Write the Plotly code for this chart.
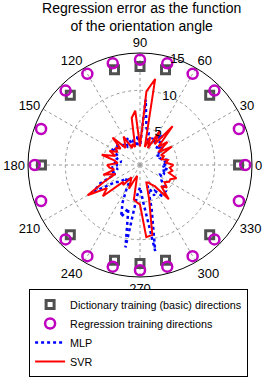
import plotly.graph_objects as go

# angles (degrees) for the error curves, 5-degree steps
angles = list(range(0, 360, 5))

svr_err = [4.5, 3.5, 3.8, 3.0, 3.4, 3.1, 4.9, 3.0, 4.8, 3.5,
           6.8, 3.4, 5.3, 2.5, 4.0, 2.5, 11.7, 9.9, 2.5, 7.3,
           6.4, 2.5, 3.0, 2.5, 4.4, 3.5, 3.0, 5.2, 3.4, 4.0,
           3.5, 4.5, 3.5, 5.3, 3.5, 3.0, 4.4, 4.1, 3.5, 5.1,
           3.5, 5.3, 8.1, 5.4, 6.5, 3.2, 3.5, 2.0, 2.5, 3.5,
           2.0, 1.5, 4.7, 5.0, 5.3, 9.7, 9.5, 4.7, 2.5, 2.6,
           3.0, 3.5, 6.0, 4.0, 4.7, 4.0, 4.5, 4.5, 5.2, 4.0,
           4.4, 4.0]

mlp_err = [3.5, 3.0, 3.9, 3.0, 2.8, 3.0, 2.5, 3.5, 4.0, 3.0,
           4.5, 5.0, 3.5, 4.0, 3.0, 4.5, 5.0, 8.8, 2.5, 4.0,
           2.5, 3.5, 3.0, 4.0, 3.4, 3.0, 3.5, 3.5, 4.3, 3.5,
           4.4, 3.5, 3.0, 3.2, 2.5, 3.5, 3.0, 3.8, 3.0, 4.0,
           3.5, 6.0, 7.1, 4.0, 3.5, 2.5, 3.0, 2.0, 3.5, 5.5,
           7.4, 6.0, 11.2, 4.0, 3.0, 5.0, 11.7, 6.0, 3.0, 4.5,
           4.0, 5.0, 5.0, 4.9, 4.0, 3.5, 3.4, 3.0, 3.5, 3.0,
           3.8, 3.0]

dict_dirs = [0, 45, 75, 90, 105, 135, 180, 225, 255, 270, 285, 315]
dict_r = [13.2] * len(dict_dirs)

reg_dirs = [0, 20, 45, 60, 75, 90, 105, 120, 135, 160,
            180, 200, 225, 240, 255, 270, 285, 300, 315, 340]
reg_r = [14.1] * len(reg_dirs)

angle_ticks = list(range(0, 360, 30))
radial_ticks = [5, 10, 15]

font_family = "Liberation Sans, Arial, sans-serif"

fig = go.Figure()

fig.add_trace(go.Scatterpolar(
    r=dict_r, theta=dict_dirs, mode="markers",
    name="Dictionary training (basic) directions",
    marker=dict(symbol="square", size=8, color="white",
                line=dict(color="#505050", width=3)),
))
fig.add_trace(go.Scatterpolar(
    r=reg_r, theta=reg_dirs, mode="markers",
    name="Regression training directions",
    marker=dict(symbol="circle", size=10, color="rgba(0,0,0,0)",
                line=dict(color="#BF00BF", width=2.5)),
))
fig.add_trace(go.Scatterpolar(
    r=mlp_err + [mlp_err[0]], theta=angles + [angles[0]], mode="lines",
    name="MLP",
    line=dict(color="#0000FF", width=2.5, dash="dot"),
))
fig.add_trace(go.Scatterpolar(
    r=svr_err + [svr_err[0]], theta=angles + [angles[0]], mode="lines",
    name="SVR",
    line=dict(color="#FF0000", width=2),
))

fig.update_layout(
    width=275, height=377,
    margin=dict(l=0, r=0, t=0, b=0, autoexpand=False),
    paper_bgcolor="white",
    font=dict(family=font_family, size=13, color="black"),
    title=dict(text="Regression error as the function<br>of the orientation angle",
               x=0.515, xanchor="center", y=0.966, yanchor="top",
               font=dict(family=font_family, size=14, color="black")),
    polar=dict(
        domain=dict(x=[28 / 275, 252 / 275], y=[100 / 377, 324 / 377]),
        bgcolor="white",
        angularaxis=dict(
            rotation=0, direction="counterclockwise",
            tickmode="array", tickvals=angle_ticks,
            ticktext=[str(a) for a in angle_ticks],
            ticks="",
            showline=True, linecolor="black", linewidth=1,
            showgrid=True, gridcolor="#999999", griddash="dot", gridwidth=1,
            tickfont=dict(size=13),
        ),
        radialaxis=dict(
            range=[0, 15], tickmode="array", tickvals=radial_ticks,
            ticktext=[str(v) for v in radial_ticks],
            angle=78, tickangle=78, side="clockwise",
            showline=False, ticks="",
            showgrid=True, gridcolor="#999999", griddash="dot", gridwidth=1,
            tickfont=dict(size=13),
        ),
    ),
    showlegend=True,
    legend=dict(
        x=0.504, xanchor="center", y=0.0, yanchor="bottom",
        bordercolor="black", borderwidth=1, bgcolor="white",
        font=dict(size=10.8), itemwidth=30,
        tracegroupgap=0,
    ),
)

fig.write_html("out.html",
               config={"displayModeBar": False},
               post_script="document.body.style.margin='0px';"
                           "document.body.style.overflow='hidden';")
